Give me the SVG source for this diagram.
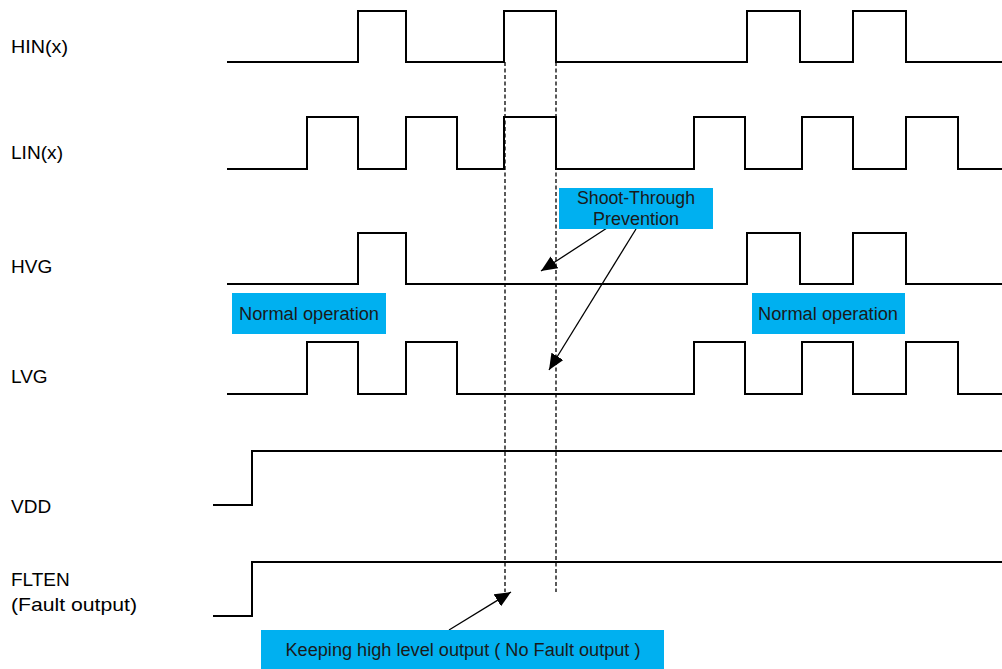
<svg xmlns="http://www.w3.org/2000/svg" width="1002" height="669" viewBox="0 0 1002 669">
<style>
.sig{fill:none;stroke:#000;stroke-width:2;stroke-linejoin:miter}
.dash{fill:none;stroke:#000;stroke-width:1.3;stroke-dasharray:4 2.5}
.arr{fill:none;stroke:#000;stroke-width:1.3}
.lbl{font-family:"Liberation Sans",Arial,sans-serif;font-size:19px;fill:#000}
.box{fill:#00B0F0}
.bt{font-family:"Liberation Sans",Arial,sans-serif;font-size:18px;fill:#1a1a1a;text-anchor:middle}
</style>
<defs>
<marker id="ah" viewBox="0 0 16 14" refX="16" refY="7" markerWidth="16" markerHeight="14" markerUnits="userSpaceOnUse" orient="auto">
<path d="M0,0 L16,7 L0,14 Z" fill="#000"/>
</marker>
</defs>
<g id="labels">
<text class="lbl" x="11" y="53" textLength="57" lengthAdjust="spacingAndGlyphs">HIN(x)</text>
<text class="lbl" x="11" y="159" textLength="52" lengthAdjust="spacingAndGlyphs">LIN(x)</text>
<text class="lbl" x="11" y="273">HVG</text>
<text class="lbl" x="11" y="383">LVG</text>
<text class="lbl" x="11" y="513">VDD</text>
<text class="lbl" x="11" y="586">FLTEN</text>
<text class="lbl" x="11" y="611" textLength="126" lengthAdjust="spacingAndGlyphs">(Fault output)</text>
</g>
<g id="waves">
<path id="HIN" class="sig" d="M227,62 H358 V11 H406 V62 H504 V11 H556 V62 H747 V11 H800 V62 H853 V11 H906 V62 H1002"/>
<path id="LIN" class="sig" d="M227,169 H307 V117 H358 V169 H406 V117 H457 V169 H504 V117 H556 V169 H694 V117 H745 V169 H802 V117 H853 V169 H906 V117 H958 V169 H1002"/>
<path id="HVG" class="sig" d="M227,284 H358 V233 H406 V284 H747 V233 H800 V284 H853 V233 H906 V284 H1002"/>
<path id="LVG" class="sig" d="M227,394 H307 V342 H358 V394 H406 V342 H457 V394 H694 V342 H745 V394 H802 V342 H853 V394 H906 V342 H958 V394 H1002"/>
<path id="VDD" class="sig" d="M213,505 H252 V451 H1002"/>
<path id="FLTEN" class="sig" d="M213,616 H252 V562 H1002"/>
</g>
<g id="connectors">
<line class="dash" x1="505" y1="62" x2="505" y2="592"/>
<line class="dash" x1="556" y1="62" x2="556" y2="592"/>
<line class="arr" x1="607" y1="228" x2="541" y2="271" marker-end="url(#ah)"/>
<line class="arr" x1="636" y1="229" x2="549" y2="370" marker-end="url(#ah)"/>
<line class="arr" x1="449" y1="630" x2="511" y2="592" marker-end="url(#ah)"/>
</g>
<g id="shoot-through">
<rect class="box" x="559" y="188" width="154" height="41"/>
<text class="bt" x="636" y="204" textLength="118" lengthAdjust="spacingAndGlyphs">Shoot-Through</text>
<text class="bt" x="636" y="225" textLength="86" lengthAdjust="spacingAndGlyphs">Prevention</text>
</g>
<g id="normal-left">
<rect class="box" x="232" y="293" width="154" height="41"/>
<text class="bt" x="309" y="320" textLength="140" lengthAdjust="spacingAndGlyphs">Normal operation</text>
</g>
<g id="normal-right">
<rect class="box" x="752" y="293" width="153" height="41"/>
<text class="bt" x="828" y="320" textLength="140" lengthAdjust="spacingAndGlyphs">Normal operation</text>
</g>
<g id="keeping">
<rect class="box" x="261" y="630" width="403" height="39"/>
<text class="bt" x="463" y="656" textLength="355" lengthAdjust="spacingAndGlyphs">Keeping high level output ( No Fault output )</text>
</g>
</svg>
